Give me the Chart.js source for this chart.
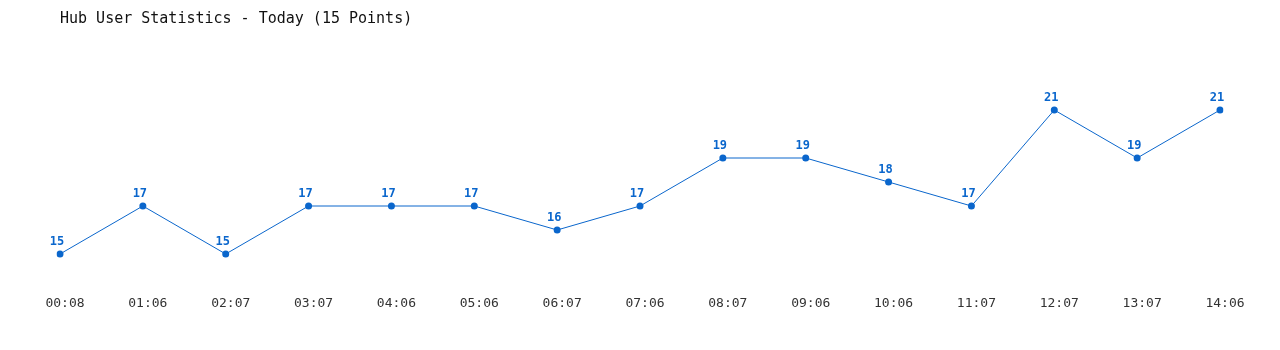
<!DOCTYPE html>
<html>
<head>
<meta charset="utf-8">
<script src="https://cdn.jsdelivr.net/npm/chart.js@4/dist/chart.umd.min.js"></script>
<style>
  html, body { margin: 0; padding: 0; background: #fff; }
  #wrap { width: 1280px; height: 350px; }
</style>
</head>
<body>
<div id="wrap"><canvas id="hubChart" width="1280" height="350"></canvas></div>
<script>
// data
const timeLabels = ['00:08','01:06','02:07','03:07','04:06','05:06','06:07','07:06','08:07','09:06','10:06','11:07','12:07','13:07','14:06']
const userCounts = [15,17,15,17,17,17,16,17,19,19,18,17,21,19,21]
const chartTitle = 'Hub User Statistics - Today (15 Points)'

const blue = '#0a66cc'
const mono = "'DejaVu Sans Mono', 'Liberation Mono', monospace"

// small plugin to write the value above each point
const valueLabels = {
  id: 'valueLabels',
  afterDatasetsDraw(chart) {
    const ctx = chart.ctx
    const meta = chart.getDatasetMeta(0)
    ctx.save()
    ctx.font = 'bold 12px ' + mono
    ctx.fillStyle = blue
    ctx.textAlign = 'center'
    ctx.textBaseline = 'bottom'
    meta.data.forEach((pt, i) => {
      ctx.fillText(String(userCounts[i]), pt.x - 3, pt.y - 6)
    })
    ctx.restore()
  }
}

const config = {
  type: 'line',
  data: {
    labels: timeLabels,
    datasets: [{
      label: 'Users',
      data: userCounts,
      borderColor: blue,
      backgroundColor: blue,
      borderWidth: 1,
      pointRadius: 3.5,
      pointHoverRadius: 3.5,
      pointBackgroundColor: blue,
      pointBorderWidth: 0,
      tension: 0,
      fill: false
    }]
  },
  options: {
    responsive: false,
    animation: false,
    layout: { padding: { left: 60, right: 60, top: 0, bottom: 0 } },
    plugins: {
      legend: { display: false },
      tooltip: { enabled: false },
      title: {
        display: true,
        text: chartTitle,
        align: 'start',
        color: '#111',
        font: { family: mono, size: 15, weight: 'normal', lineHeight: 1.2 },
        padding: { top: 10, bottom: 34 }
      }
    },
    scales: {
      x: {
        offset: false,
        grid: { display: false, drawTicks: false },
        border: { display: false },
        ticks: {
          color: '#333',
          font: { family: mono, size: 13 },
          padding: 18,
          labelOffset: 5,
          maxRotation: 0,
          autoSkip: false
        },
        afterFit: (scale) => { scale.height = 72 }
      },
      y: {
        display: false,
        min: 14,
        max: 23
      }
    }
  },
  plugins: [valueLabels]
}

new Chart(document.getElementById('hubChart').getContext('2d'), config)
</script>
</body>
</html>
